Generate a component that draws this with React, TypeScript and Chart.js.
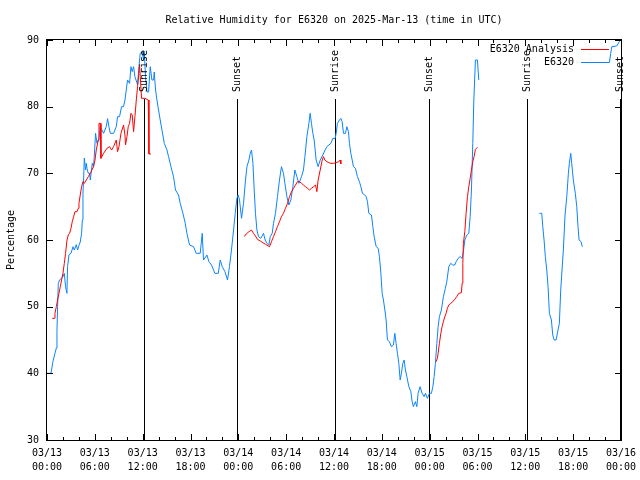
import React, { useEffect, useRef } from "react";
import { Chart, registerables } from "chart.js";

Chart.register(...registerables);

const TITLE = "Relative Humidity for E6320 on 2025-Mar-13 (time in UTC)";
const Y_TITLE = "Percentage";
const FONT_FAMILY = "'DejaVu Sans Mono', monospace";
const BLUE = "#0a84ff";
const RED = "#ff0000";

const xTickLabels = [
  ["03/13", "00:00"], ["03/13", "06:00"], ["03/13", "12:00"], ["03/13", "18:00"],
  ["03/14", "00:00"], ["03/14", "06:00"], ["03/14", "12:00"], ["03/14", "18:00"],
  ["03/15", "00:00"], ["03/15", "06:00"], ["03/15", "12:00"], ["03/15", "18:00"],
  ["03/16", "00:00"],
];

// Sunrise / sunset markers (hours since 03/13 00:00 UTC)
const sunEventHours = [12.2, 23.9, 36.17, 47.97, 60.27, 71.97];
const sunEventLabels = ["Sunrise", "Sunset", "Sunrise", "Sunset", "Sunrise", "Sunset"];

// E6320 observations (hours since 03/13 00:00 UTC), null = gap
const blueHours = [
  0, 0.5, 0.75, 1.0, 1.17, 1.25, 1.33, 1.42, 1.58, 2.0,
  2.17, 2.33, 2.5, 2.58, 2.76, 3.01, 3.26, 3.42, 3.67, 3.84,
  4.01, 4.17, 4.34, 4.43, 4.51, 4.59, 4.68, 4.84, 4.93, 5.02,
  5.18, 5.34, 5.43, 5.68, 5.84, 5.93, 6.09, 6.27, 6.52, 6.68,
  6.9, 7.1, 7.43, 7.6, 7.77, 7.94, 8.35, 8.69, 8.85, 9.1,
  9.35, 9.6, 9.78, 9.94, 10.1, 10.36, 10.53, 10.69, 10.86, 11.03,
  11.36, 11.53, 11.7, 11.95, 12.11, 12.2, 12.36, 12.54, 12.74, 12.95,
  13.16, 13.37, 13.45, 13.62, 13.79, 13.99, 14.2, 14.42, 14.71, 15.05,
  15.25, 15.55, 15.87, 16.12, 16.5, 16.71, 17.05, 17.34, 17.55, 17.88,
  18.38, 18.72, 19.22, 19.47, 19.63, 20.06, 20.31, 20.64, 20.89, 21.06,
  21.48, 21.73, 21.98, 22.32, 22.64, 22.89, 23.14, 23.4, 23.61, 23.82,
  23.98, 24.15, 24.4, 24.65, 24.9, 25.08, 25.33, 25.49, 25.65, 25.83,
  25.99, 26.15, 26.33, 26.53, 26.83, 27.16, 27.37, 27.58, 27.83, 28.0,
  28.25, 28.41, 28.66, 28.91, 29.16, 29.41, 29.66, 29.84, 30.09, 30.34,
  30.59, 30.84, 31.09, 31.34, 31.6, 31.92, 32.17, 32.35, 32.6, 32.85,
  33.01, 33.17, 33.35, 33.51, 33.76, 34.01, 34.27, 34.6, 34.89, 35.11,
  35.36, 35.61, 35.86, 36.15, 36.27, 36.43, 36.69, 36.86, 37.02, 37.19,
  37.44, 37.61, 37.81, 37.94, 38.11, 38.28, 38.44, 38.69, 38.94, 39.19,
  39.37, 39.57, 39.87, 40.03, 40.2, 40.37, 40.7, 40.87, 41.04, 41.29,
  41.54, 41.7, 41.88, 42.04, 42.2, 42.38, 42.54, 42.7, 42.95, 43.2,
  43.45, 43.63, 43.79, 43.96, 44.13, 44.3, 44.46, 44.63, 44.8, 44.96,
  45.14, 45.39, 45.64, 45.8, 45.96, 46.21, 46.39, 46.55, 46.8, 47.05,
  47.3, 47.47, 47.72, 47.97, 48.22, 48.4, 48.56, 48.72, 48.9, 49.06,
  49.22, 49.47, 49.72, 49.97, 50.15, 50.4, 50.65, 50.9, 51.15, 51.32,
  51.57, 51.82, 52.07, 52.23, 52.41, 52.66, 52.91, 53.08, 53.24, 53.41,
  53.54, 53.74, 53.99, 54.16, 58, 61.76, 62.06, 62.19, 62.35, 62.51,
  62.69, 62.85, 63.02, 63.27, 63.44, 63.61, 63.86, 64.1, 64.27, 64.44,
  64.6, 64.77, 64.98, 65.2, 65.4, 65.52, 65.7, 65.82, 66.02, 66.27,
  66.45, 66.61, 66.74, 66.99, 67.15, 69, 70.54, 70.71, 70.84, 71.46,
  71.79, 72.0,
];
const blueValues = [
  40, 40, 41.8, 43, 43.8, 46.3, 50, 53.5, 54, 54.5,
  55, 53, 52, 56, 57.8, 58, 59, 58.5, 59.3, 58.5,
  59.2, 59.7, 61, 63, 67, 69, 72.3, 70.5, 71.5, 70.7,
  70, 70, 69, 71.5, 71, 72.5, 76, 74.5, 75.25, 77,
  76.5, 76, 77, 78.2, 77, 76, 76, 77, 78.5, 78.5,
  80, 80, 81, 82.5, 84, 83.5, 86, 85.25, 86, 84.5,
  83.3, 86, 88, 88.3, 87, 88.3, 84.5, 82.2, 82.2, 86,
  84, 84, 85.2, 82.5, 81, 79.5, 78, 76.5, 74.5, 73.5,
  72.5, 71, 69.5, 67.5, 66.75, 65.5, 64, 62.5, 61, 59.25,
  59, 58, 58, 61, 57, 57.75, 56.75, 56.25, 55.5, 55,
  55, 57, 56, 55.25, 54, 56, 58.5, 61.5, 64, 66.25,
  66.75, 66, 63.25, 65.5, 69, 71, 72, 73, 73.5, 71.5,
  67.5, 64, 61.5, 60.5, 60.25, 61, 60, 59.5, 59.25, 60.5,
  61, 62.5, 64, 66.5, 69, 71, 70, 68.5, 66.5, 65.25,
  66, 68, 70.5, 69.5, 68.5, 69.5, 70.5, 72.5, 75.5, 77.5,
  79, 77.5, 76, 75, 72, 71, 72, 72.75, 73.5, 74,
  74.25, 74.5, 75.25, 75.25, 76, 77.5, 78, 78.25, 77.75, 76,
  76, 77, 76.25, 74.5, 73, 72, 71, 70.75, 69.5, 68.75,
  68, 67, 66.75, 66.5, 65.75, 64, 63.75, 62, 60.5, 59,
  58.75, 57.5, 55, 52, 51, 49.5, 48, 45, 44.75, 44,
  44.25, 46, 44.5, 43, 41.5, 39, 40, 41.5, 42, 40.5,
  39.5, 38, 37.25, 35.75, 35, 35.75, 35, 37, 38, 37,
  36.5, 37, 36.25, 37, 37, 38, 39.5, 41.5, 44.5, 47,
  48.5, 49.5, 51.5, 52.75, 53.75, 56, 56.5, 56.25, 56.25, 56.75,
  57.25, 57.5, 57.25, 58.25, 60, 60.75, 61, 63.5, 67.5, 74.5,
  81, 87, 87, 84, null, 64, 64, 62, 60, 57.5,
  55.5, 53, 49, 48, 45.75, 45, 45, 46.5, 47.5, 52.5,
  55.5, 58.5, 63.75, 66.5, 70, 71.5, 73, 71.5, 69, 67,
  65, 62, 60, 59.75, 59, null, 86.6, 88, 89, 89.1,
  89.75, 90.5,
];

// E6320 Analysis (hours since 03/13 00:00 UTC), null = gap
const redHours = [
  0.66, 0.92, 1.0, 1.17, 1.33, 1.5, 1.67, 1.83, 2.0, 2.17,
  2.33, 2.51, 2.67, 2.83, 3.01, 3.17, 3.34, 3.51, 3.76, 3.92,
  4.01, 4.17, 4.34, 4.51, 4.68, 4.93, 5.18, 5.43, 5.84, 6.02,
  6.18, 6.43, 6.52, 6.68, 6.77, 7.1, 7.52, 7.85, 8.1, 8.35,
  8.69, 8.85, 9.03, 9.28, 9.6, 9.78, 9.85, 10.03, 10.19, 10.36,
  10.53, 10.69, 10.86, 11.03, 11.2, 11.36, 11.53, 11.61, 11.7, 11.86,
  12.29, 12.7, 12.79, 13.04, 18, 24.74, 24.99, 25.33, 25.65, 25.9,
  26.15, 26.4, 26.74, 27.08, 27.41, 27.75, 27.91, 28.16, 28.41, 28.66,
  28.91, 29.16, 29.41, 29.66, 29.91, 30.17, 30.42, 30.67, 30.92, 31.17,
  31.42, 31.67, 31.92, 32.17, 32.42, 32.67, 32.92, 33.17, 33.43, 33.68,
  33.85, 34.01, 34.27, 34.52, 34.68, 34.85, 35.11, 35.36, 35.61, 35.93,
  36.27, 36.61, 36.77, 36.86, 42, 48.81, 48.97, 49.06, 49.22, 49.4,
  49.56, 49.72, 49.9, 50.06, 50.22, 50.4, 50.65, 50.9, 51.15, 51.4,
  51.66, 51.98, 52.07, 52.16, 52.23, 52.41, 52.57, 52.74, 52.91, 53.08,
  53.24, 53.41, 53.57, 53.74, 53.99,
];
const redValues = [
  48.25, 48.25, 49, 50, 51, 52, 53, 54, 55, 56.5,
  58, 60, 60.75, 61, 61.75, 62.75, 63.5, 64.25, 64.25, 64.75,
  65.5, 66.75, 68, 68.75, 68.5, 69, 69.5, 70, 71, 72,
  73.5, 75, 77.5, 77.5, 72.25, 73, 73.75, 74, 73.5, 74,
  75, 73.25, 74, 76, 77.25, 75.75, 74.25, 75.5, 77, 77.5,
  79, 78.75, 76.25, 78.5, 81, 83, 85, 86.25, 84.5, 81.25,
  81.25, 81, 72.9, 72.9, null, 60.5, 60.9, 61.25, 61.5, 61,
  60.6, 60.1, 59.85, 59.6, 59.35, 59.1, 59, 59.75, 60.5, 61.25,
  62, 62.75, 63.5, 64, 64.75, 65.5, 66.5, 67.25, 67.75, 68.25,
  68.75, 68.75, 68.5, 68.25, 68, 67.75, 67.5, 67.75, 68, 68.25,
  67.25, 69, 70.5, 72, 72.5, 72, 71.75, 71.6, 71.5, 71.5,
  71.6, 71.75, 72, 71.4, null, 41.75, 42.25, 43, 44.5, 46,
  47, 47.75, 48.5, 49, 49.75, 50.25, 50.5, 50.75, 51.1, 51.5,
  52, 52.1, 53.5, 56.5, 59.5, 61.25, 64, 66.5, 68, 69.25,
  70.5, 71.75, 72.5, 73.6, 73.9,
];

const toPoints = (hours: number[], values: (number | null)[]) =>
  hours.map((h, i) => ({ x: h, y: values[i] }));

const overlayPlugin = {
  id: "gnuplotOverlay",
  beforeDatasetsDraw(chart: any) {
    const { ctx, chartArea, scales } = chart;
    const { bottom } = chartArea;
    const xs = scales.x;
    ctx.save();
    ctx.strokeStyle = "#000";
    ctx.lineWidth = 1;
    sunEventHours.forEach((h) => {
      const px = Math.floor(xs.getPixelForValue(h)) + 0.5;
      ctx.beginPath();
      ctx.moveTo(px, 99);
      ctx.lineTo(px, bottom);
      ctx.stroke();
    });
    ctx.restore();
  },
  afterDraw(chart: any) {
    const { ctx, chartArea, scales } = chart;
    const { left, right, top, bottom } = chartArea;
    const xs = scales.x;
    const ys = scales.y;
    ctx.save();
    ctx.strokeStyle = "#000";
    ctx.lineWidth = 1;
    // border
    ctx.strokeRect(left - 0.5, top - 0.5, right - left + 1, bottom - top + 1);
    // y ticks (inward, both sides)
    ctx.beginPath();
    for (let v = 30; v <= 90; v += 10) {
      const py = Math.round(ys.getPixelForValue(v)) + 0.5;
      ctx.moveTo(left, py);
      ctx.lineTo(left + 6, py);
      ctx.moveTo(right, py);
      ctx.lineTo(right - 6, py);
    }
    // x ticks (major every 6h, minor every 2h)
    for (let h = 0; h <= 72; h += 2) {
      const len = h % 6 === 0 ? 6 : 3;
      const px = Math.round(xs.getPixelForValue(h)) + 0.5;
      ctx.moveTo(px, bottom);
      ctx.lineTo(px, bottom - len);
      ctx.moveTo(px, top);
      ctx.lineTo(px, top + len);
    }
    ctx.stroke();

    ctx.fillStyle = "#000";
    ctx.font = "10px " + FONT_FAMILY;

    // title, centred over the plot area
    ctx.textAlign = "center";
    ctx.textBaseline = "middle";
    ctx.fillText(TITLE, (left + right) / 2, 20);

    // sun event labels
    sunEventHours.forEach((h, i) => {
      const px = Math.floor(xs.getPixelForValue(h)) + 0.5;
      ctx.save();
      ctx.translate(px, 92);
      ctx.rotate(-Math.PI / 2);
      ctx.textAlign = "left";
      ctx.textBaseline = "middle";
      ctx.fillText(sunEventLabels[i], 0, 0);
      ctx.restore();
    });

    // legend
    const legend = [
      { text: "E6320 Analysis", color: RED, y: 49.5 },
      { text: "E6320", color: BLUE, y: 62.5 },
    ];
    ctx.textAlign = "right";
    ctx.textBaseline = "middle";
    legend.forEach((item) => {
      ctx.fillStyle = "#000";
      ctx.fillText(item.text, 574, item.y);
      ctx.strokeStyle = item.color;
      ctx.beginPath();
      ctx.moveTo(581, item.y);
      ctx.lineTo(609, item.y);
      ctx.stroke();
    });
    ctx.restore();
  },
};

export default function App() {
  const canvasRef = useRef<HTMLCanvasElement>(null);

  useEffect(() => {
    if (!canvasRef.current) return;
    const font = { family: FONT_FAMILY, size: 10, lineHeight: 1.33 };
    const chart = new Chart(canvasRef.current, {
      type: "line",
      data: {
        datasets: [
          {
            label: "E6320 Analysis",
            data: toPoints(redHours, redValues),
            borderColor: RED,
            borderWidth: 1,
            pointRadius: 0,
            spanGaps: false,
            tension: 0,
            fill: false,
          },
          {
            label: "E6320",
            data: toPoints(blueHours, blueValues),
            borderColor: BLUE,
            borderWidth: 1,
            pointRadius: 0,
            spanGaps: false,
            tension: 0,
            fill: false,
          },
        ],
      },
      options: {
        animation: false,
        responsive: false,
        events: [],
        layout: { padding: { left: 0, right: 19, top: 40, bottom: 0 } },
        plugins: {
          legend: { display: false },
          tooltip: { enabled: false },
          title: { display: false },
        },
        scales: {
          x: {
            type: "linear",
            min: 0,
            max: 72,
            afterFit: (s: any) => {
              s.height = 40;
              s.paddingLeft = 0;
              s.paddingRight = 0;
            },
            ticks: {
              stepSize: 6,
              autoSkip: false,
              maxRotation: 0,
              minRotation: 0,
              padding: 7,
              color: "#000",
              font,
              callback: (v: any) => xTickLabels[Math.round(Number(v) / 6)] ?? "",
            },
            grid: { display: false, drawTicks: false },
            border: { display: false },
          },
          y: {
            type: "linear",
            min: 30,
            max: 90,
            afterFit: (s: any) => {
              s.width = 47;
              s.paddingTop = 0;
              s.paddingBottom = 0;
            },
            ticks: { stepSize: 10, padding: 8, color: "#000", font },
            grid: { display: false, drawTicks: false },
            border: { display: false },
            title: {
              display: true,
              text: Y_TITLE,
              color: "#000",
              font: { family: FONT_FAMILY, size: 10, lineHeight: 1.2 },
              padding: { top: 5, bottom: 0 },
            },
          },
        },
      },
      plugins: [overlayPlugin],
    } as any);
    return () => chart.destroy();
  }, []);

  return (
    <div style={{ position: "absolute", left: 0, top: 0, width: 640, height: 480, background: "#fff" }}>
      <canvas ref={canvasRef} width={640} height={480} style={{ display: "block" }} />
    </div>
  );
}
